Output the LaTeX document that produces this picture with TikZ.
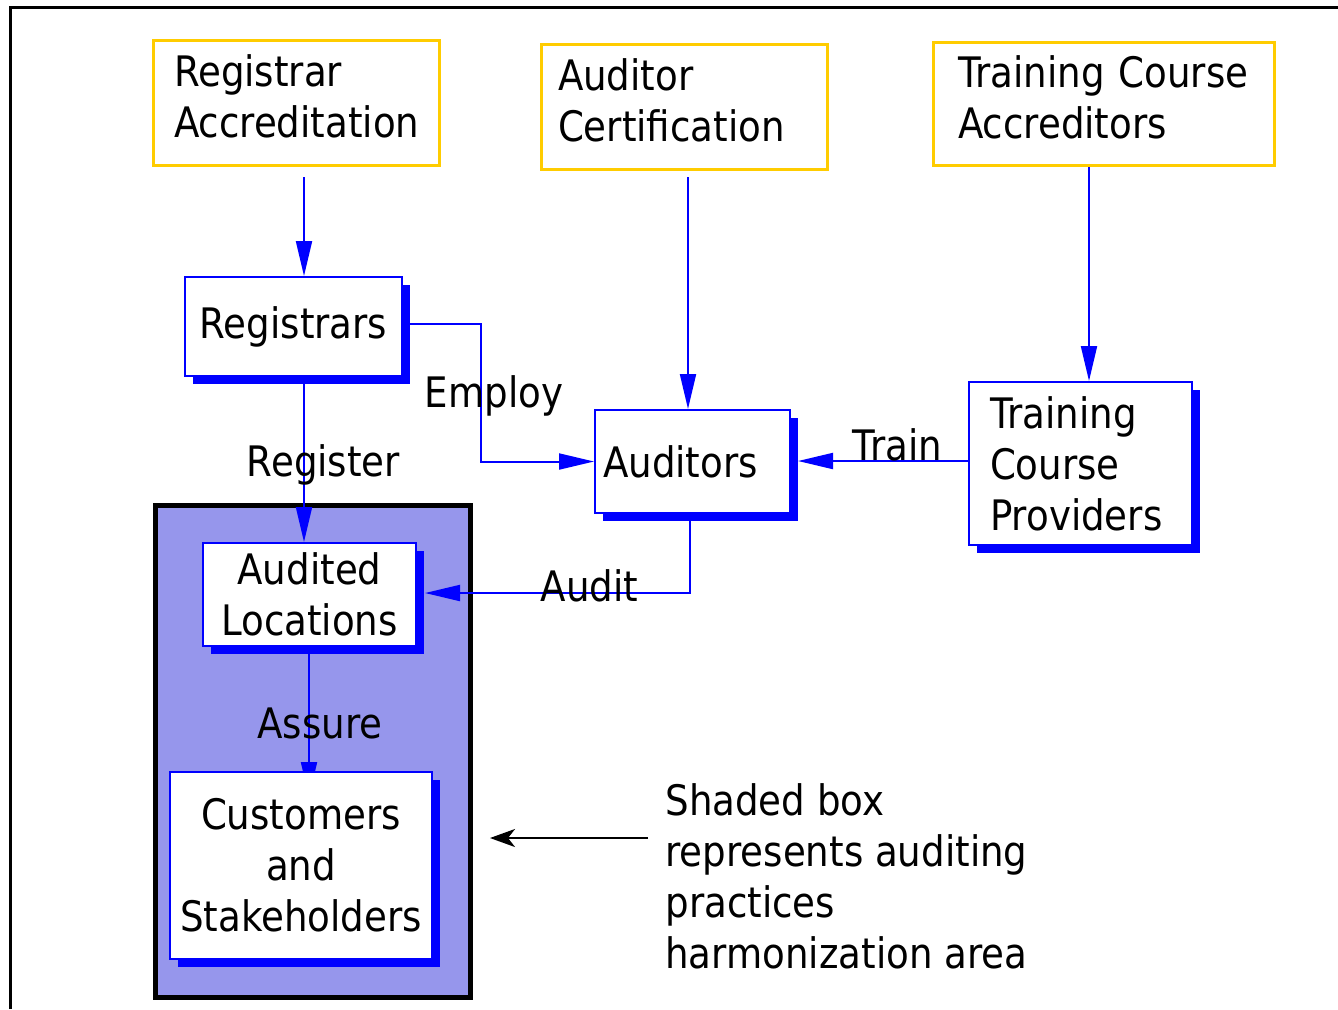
\documentclass[tikz,border=0pt]{standalone}
\usepackage{fontspec}
\setmainfont{DejaVu Sans}[FakeStretch=0.885]
\usetikzlibrary{arrows.meta,shadows,calc}
\definecolor{gold}{RGB}{255,204,0}
\definecolor{shadefill}{RGB}{150,150,236}
\pgfdeclarelayer{bg}
\pgfdeclarelayer{mid}
\pgfsetlayers{bg,mid,main}
\newcommand{\lowstrut}{\rule[-6pt]{0pt}{6pt}}
\begin{document}
\begin{tikzpicture}[x=0.5pt,y=-0.5pt,
  every node/.style={font=\fontsize{21}{25.5}\selectfont},
  ybox/.style={draw=gold,line width=1.5pt,fill=white,align=left,inner ysep=0pt},
  bbox/.style={draw=blue,line width=1pt,fill=white,align=center,inner sep=0pt,
    drop shadow={shadow xshift=4pt,shadow yshift=-4pt,fill=blue,opacity=1}},
  arr/.style={draw=blue,line width=1pt,-{Triangle[length=17.5pt,width=8pt]}},
  lbl/.style={inner sep=0pt,anchor=base}]
\useasboundingbox (0,0) rectangle (1338,1009);
% outer frame
\draw[line width=1.5pt] (10,1009) -- (10,7) -- (1338,7);
% shaded area
\begin{pgfonlayer}{bg}
\draw[line width=2.5pt,fill=shadefill] (155,505) rectangle (470,997);
\end{pgfonlayer}
% top boxes
\node[ybox,minimum height=62.5pt,text width=122pt,inner xsep=10.5pt] (ra) at (296,102.5) {Registrar\\Accreditation\lowstrut};
\node[ybox,minimum height=62.5pt,text width=126pt,inner xsep=8.5pt] (ac) at (684,106.5) {Auditor\\Certification\lowstrut};
\node[ybox,minimum height=61.5pt,text width=145.5pt,inner xsep=12.5pt] (tca) at (1103.5,103.5) {Training~Course\\Accreditors\lowstrut};
% blue boxes
\node[bbox,minimum width=108.5pt,minimum height=49.5pt] (reg) at (293.5,326.5) {Registrars};
\node[bbox,minimum width=97.5pt,minimum height=51.5pt] (aud) at (692.5,461.5) {Auditors\hspace*{12pt}};
\node[bbox,minimum height=81.5pt,text width=90.5pt,inner xsep=10.5pt,align=left] (tcp) at (1080.5,463.5) {Training\\Course\\Providers};
\node[bbox,minimum width=106.5pt,minimum height=51.5pt] (al) at (309.5,594.5) {Audited\\Locations};
\node[bbox,minimum width=131pt,minimum height=93.5pt] (cs) at (301,865.5) {Customers\\and\\Stakeholders};
% note
\node[inner sep=0pt,anchor=base west,align=left] (note) at (665,968) {Shaded box\\represents auditing\\practices\\harmonization area};
% coordinates
\coordinate (raout) at (304,177);
\coordinate (acout) at (688,177);
\coordinate (noteout) at (648,838);
\coordinate (noteend) at (490,838);
% connectors
\begin{pgfonlayer}{mid}
\draw[arr] (raout) -- (raout |- reg.north);
\draw[arr] (acout) -- (acout |- aud.north);
\draw[arr] ($(tca.south)+(-14.5,0)$) -- ($(tcp.north)+(8.5,0)$);
\draw[arr] ($(reg.east)+(0,-3)$) -- ($(reg.east)+(78,-3)$) |- (aud.west);
\draw[arr] (raout |- reg.south) -- (raout |- al.north);
\draw[arr] ($(tcp.west)+(0,-2.5)$) -- ($(aud.east)+(7,-0.5)$);
\draw[arr] ($(aud.south)+(-2.5,0)$) |- ($(al.east)+(8,-1.5)$);
\draw[arr] ($(al.south)+(-0.5,0)$) -- ($(al.south |- cs.north)+(-0.5,26)$);
\end{pgfonlayer}
\draw[line width=1pt,-{Stealth[length=12.5pt,width=9pt,inset=3.5pt]}] (noteout) -- (noteend);
% labels
\node[lbl] (lemploy) at (494,407) {Employ};
\node[lbl] (lregister) at (323.5,476) {Register};
\node[lbl] (ltrain) at (897.5,460) {Train};
\node[lbl] (laudit) at (589.5,601) {Audit};
\node[lbl] (lassure) at (320,738) {Assure};
\end{tikzpicture}
\end{document}
